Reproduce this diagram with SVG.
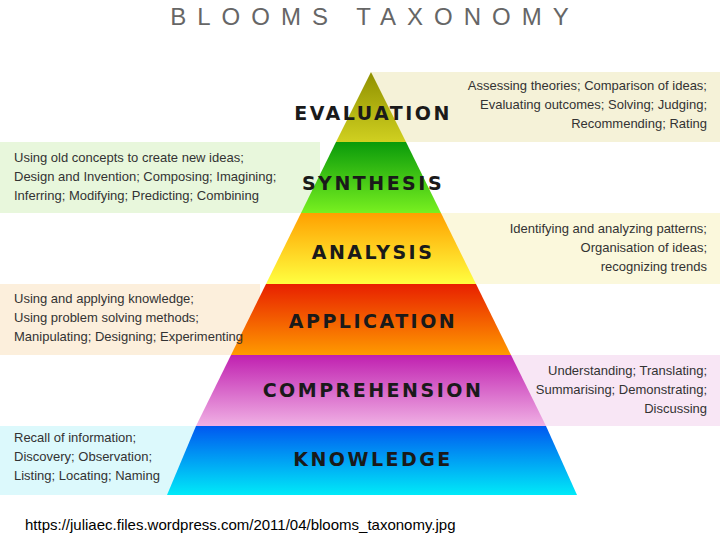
<svg xmlns="http://www.w3.org/2000/svg" width="720" height="540" viewBox="0 0 720 540">
<style>
.d{font-family:"Liberation Sans",Arial,sans-serif;font-size:13px;fill:#333}
.r{text-anchor:end}
.l{font-family:"DejaVu Sans",sans-serif;font-weight:bold;font-size:19px;letter-spacing:2.5px;fill:#1a1a1a;text-anchor:middle}
</style>
<defs>
<linearGradient id="gE" x1="0" y1="0" x2="0" y2="1"><stop offset="0" stop-color="#8f9000"/><stop offset="1" stop-color="#d0d020"/></linearGradient>
<linearGradient id="gS" x1="0" y1="0" x2="0" y2="1"><stop offset="0" stop-color="#0a9a0a"/><stop offset="1" stop-color="#78f020"/></linearGradient>
<linearGradient id="gA" x1="0" y1="0" x2="0" y2="1"><stop offset="0" stop-color="#ffa000"/><stop offset="1" stop-color="#ffff40"/></linearGradient>
<linearGradient id="gP" x1="0" y1="0" x2="0" y2="1"><stop offset="0" stop-color="#e82000"/><stop offset="1" stop-color="#ff9a00"/></linearGradient>
<linearGradient id="gC" x1="0" y1="0" x2="0" y2="1"><stop offset="0" stop-color="#c020b0"/><stop offset="1" stop-color="#f0b0e4"/></linearGradient>
<linearGradient id="gK" x1="0" y1="0" x2="0" y2="1"><stop offset="0" stop-color="#0058f0"/><stop offset="1" stop-color="#00eaf8"/></linearGradient>
</defs>
<rect width="720" height="540" fill="#fff"/>
<text x="375" y="25" font-family="Liberation Sans,Arial,sans-serif" font-size="24" fill="#666" text-anchor="middle" letter-spacing="11">BLOOMS  TAXONOMY</text>
<g id="boxes">
<rect x="372" y="72" width="348" height="70" fill="#f5f2d8"/>
<rect x="0" y="142" width="320" height="71" fill="#e8f7dc"/>
<rect x="420" y="213" width="300" height="71" fill="#fbf8dc"/>
<rect x="0" y="284" width="260" height="71" fill="#fcefdc"/>
<rect x="460" y="355" width="260" height="71" fill="#f8e6f5"/>
<rect x="0" y="426" width="210" height="69" fill="#dcf9fc"/>
</g>
<g id="evaluation"><polygon points="371,72 406,142 336,142" fill="url(#gE)"/><text class="l" x="373" y="120">EVALUATION</text>
<text class="d r" x="707" y="90">Assessing theories; Comparison of ideas;</text><text class="d r" x="707" y="109">Evaluating outcomes; Solving; Judging;</text><text class="d r" x="707" y="128">Recommending; Rating</text></g>
<g id="synthesis"><polygon points="336,142 406,142 441,213 301,213" fill="url(#gS)"/><text class="l" x="373" y="190">SYNTHESIS</text>
<text class="d" x="14" y="162">Using old concepts to create new ideas;</text><text class="d" x="14" y="181">Design and Invention; Composing; Imagining;</text><text class="d" x="14" y="200">Inferring; Modifying; Predicting; Combining</text></g>
<g id="analysis"><polygon points="301,213 441,213 476,284 266,284" fill="url(#gA)"/><text class="l" x="373" y="259">ANALYSIS</text>
<text class="d r" x="707" y="233">Identifying and analyzing patterns;</text><text class="d r" x="707" y="252">Organisation of ideas;</text><text class="d r" x="707" y="271">recognizing trends</text></g>
<g id="application"><polygon points="266,284 476,284 511,355 231,355" fill="url(#gP)"/><text class="l" x="373" y="328">APPLICATION</text>
<text class="d" x="14" y="303">Using and applying knowledge;</text><text class="d" x="14" y="322">Using problem solving methods;</text><text class="d" x="14" y="341">Manipulating; Designing; Experimenting</text></g>
<g id="comprehension"><polygon points="231,355 511,355 546,426 196,426" fill="url(#gC)"/><text class="l" x="373" y="397">COMPREHENSION</text>
<text class="d r" x="707" y="375">Understanding; Translating;</text><text class="d r" x="707" y="394">Summarising; Demonstrating;</text><text class="d r" x="707" y="413">Discussing</text></g>
<g id="knowledge"><polygon points="196,426 546,426 577,495 167,495" fill="url(#gK)"/><text class="l" x="373" y="466">KNOWLEDGE</text>
<text class="d" x="14" y="442">Recall of information;</text><text class="d" x="14" y="461">Discovery; Observation;</text><text class="d" x="14" y="480">Listing; Locating; Naming</text></g>
<g id="connectors"/>
<text x="25" y="530" font-family="Liberation Sans,Arial,sans-serif" font-size="15" fill="#000">https://juliaec.files.wordpress.com/2011/04/blooms_taxonomy.jpg</text>
</svg>
